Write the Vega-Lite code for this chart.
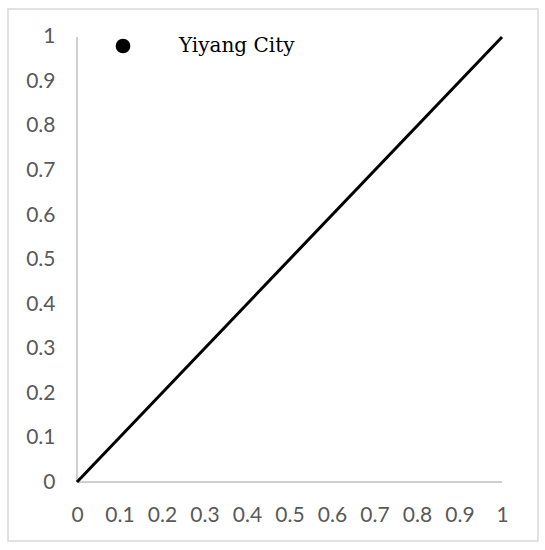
{
  "$schema": "https://vega.github.io/schema/vega-lite/v6.json",
  "width": 530,
  "height": 532,
  "autosize": {"type": "none"},
  "padding": {"left": 8, "top": 9, "right": 7, "bottom": 9},
  "background": "white",
  "config": {
    "view": {"stroke": "#d9d9d9", "strokeWidth": 1.5},
    "axis": {"grid": false, "domain": false, "ticks": false, "labelFont": "Lato", "labelFontSize": 21, "labelColor": "#595959", "title": null}
  },
  "datasets": {
    "curve": [
      {"series": "Yiyang City", "x": 0, "y": 0},
      {"series": "Yiyang City", "x": 1, "y": 1}
    ],
    "axes": [
      {"x": 0, "x2": 1, "y": 0, "y2": 0},
      {"x": 0, "x2": 0, "y": 0, "y2": 1}
    ]
  },
  "layer": [
    {
      "data": {"name": "axes"},
      "mark": {"type": "rule", "color": "#bfbfbf", "strokeWidth": 1.5},
      "encoding": {
        "x": {"field": "x", "type": "quantitative", "scale": {"domain": [-0.16235, 1.08471], "nice": false, "zero": false},
          "axis": {"orient": "bottom", "offset": -59, "values": [0, 0.1, 0.2, 0.3, 0.4, 0.5, 0.6, 0.7, 0.8, 0.9, 1], "labelPadding": 22, "labelFlush": false, "labelOverlap": false, "format": "~g"}},
        "x2": {"field": "x2"},
        "y": {"field": "y", "type": "quantitative", "scale": {"domain": [-0.13258, 1.06292], "nice": false, "zero": false},
          "axis": {"orient": "left", "offset": -69, "values": [0, 0.1, 0.2, 0.3, 0.4, 0.5, 0.6, 0.7, 0.8, 0.9, 1], "labelPadding": 22, "labelFlush": false, "labelOverlap": false, "format": "~g"}},
        "y2": {"field": "y2"}
      }
    },
    {
      "data": {"name": "curve"},
      "mark": {"type": "line", "strokeWidth": 3},
      "encoding": {
        "x": {"field": "x", "type": "quantitative"},
        "y": {"field": "y", "type": "quantitative"},
        "color": {"field": "series", "type": "nominal", "scale": {"domain": ["Yiyang City"], "range": ["black"]},
          "legend": {"title": null, "orient": "none", "legendX": 105, "legendY": 27, "symbolType": "circle", "symbolSize": 150,
            "symbolFillColor": "black", "symbolStrokeColor": "#4472C4", "symbolStrokeWidth": 2.5,
            "labelFont": "DejaVu Serif", "labelFontSize": 20, "labelColor": "#000000", "labelOffset": 46, "labelLimit": 300,
            "encode": {"symbols": {"update": {"fill": {"value": "black"}, "stroke": {"value": "#4472C4"}, "strokeWidth": {"value": 2.5}}}}}}
      }
    }
  ]
}
